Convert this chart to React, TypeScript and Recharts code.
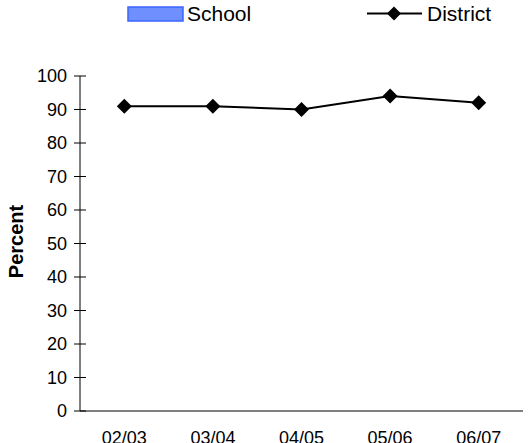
import React from "react";
import { ComposedChart, Line, Bar, XAxis, YAxis, Legend, Label } from "recharts";

const years = ["02/03", "03/04", "04/05", "05/06", "06/07"];
const schoolValues: (number | null)[] = [null, null, null, null, null];
const districtValues = [91, 91, 90, 94, 92];
const yTicks = [0, 10, 20, 30, 40, 50, 60, 70, 80, 90, 100];
const bandTicks = [0, 1, 2, 3, 4, 5];

const data = years.map((year, i) => ({
  year,
  School: schoolValues[i],
  District: districtValues[i],
}));

const FONT = "'Liberation Sans', Arial, sans-serif";

const YTick = (props: any) => {
  const { x, y, payload } = props;
  return (
    <g>
      <line x1={x - 6} x2={x + 6} y1={y} y2={y} stroke="#000" />
      <text x={x - 13} y={y} dy="0.35em" textAnchor="end" fontSize={18} fontFamily={FONT} fill="#000">
        {payload.value}
      </text>
    </g>
  );
};

const BandTick = (props: any) => {
  const { x, y } = props;
  return <line x1={x} x2={x} y1={y - 6} y2={y + 6} stroke="#000" />;
};

const Diamond = (props: any) => {
  const { cx, cy, index } = props;
  if (cx == null || cy == null) return null;
  const s = 7.5;
  return (
    <polygon
      key={index}
      points={`${cx},${cy - s} ${cx + s},${cy} ${cx},${cy + s} ${cx - s},${cy}`}
      fill="#000"
    />
  );
};

const renderLegend = () => (
  <svg width={528} height={28} style={{ display: "block" }}>
    <rect x={128} y={7} width={55} height={14} fill="#6f8fff" stroke="#3a66ff" strokeWidth={1.5} />
    <text x={187} y={21} fontSize={21} fontFamily={FONT} fill="#000">School</text>
    <line x1={367} x2={422} y1={13.5} y2={13.5} stroke="#000" strokeWidth={2} />
    <polygon points="394,6.5 401,13.5 394,20.5 387,13.5" fill="#000" />
    <text x={427} y={21} fontSize={21} fontFamily={FONT} fill="#000">District</text>
  </svg>
);

export default function App() {
  return (
    <div style={{ position: "absolute", left: 0, top: 0, width: 528, height: 443, background: "#fff" }}>
      <ComposedChart width={528} height={443} data={data} margin={{ top: 48, right: 5, bottom: 0, left: 0 }}>
        <Legend verticalAlign="top" align="left" content={renderLegend} wrapperStyle={{ top: 0, left: 0 }} />
        <XAxis
          xAxisId="band"
          type="number"
          domain={[0, 5]}
          ticks={bandTicks}
          interval={0}
          height={0}
          tickSize={0}
          tickMargin={0}
          axisLine={false}
          tickLine={false}
          tick={BandTick}
        />
        <XAxis
          dataKey="year"
          height={32}
          tickSize={0}
          tickMargin={20}
          tickLine={false}
          axisLine={{ stroke: "#000" }}
          tick={{ fill: "#000", fontSize: 18, fontFamily: FONT }}
          interval={0}
        />
        <YAxis
          width={80}
          domain={[0, 100]}
          ticks={yTicks}
          interval={0}
          tickSize={0}
          tickMargin={0}
          tickLine={false}
          axisLine={{ stroke: "#000" }}
          tick={YTick}
        >
          <Label
            content={(p: any) => {
              const vb = p.viewBox;
              const cx = vb.x + 16;
              const cy = vb.y + vb.height / 2 - 2;
              return (
                <text
                  transform={`translate(${cx},${cy}) rotate(-90)`}
                  textAnchor="middle"
                  dominantBaseline="central"
                  fontSize={20}
                  fontWeight="bold"
                  fontFamily={FONT}
                  fill="#000"
                >
                  Percent
                </text>
              );
            }}
          />
        </YAxis>
        <Bar dataKey="School" fill="#6f8fff" stroke="#3a66ff" isAnimationActive={false} />
        <Line
          dataKey="District"
          stroke="#000"
          strokeWidth={2}
          dot={Diamond}
          activeDot={false}
          isAnimationActive={false}
        />
      </ComposedChart>
    </div>
  );
}
